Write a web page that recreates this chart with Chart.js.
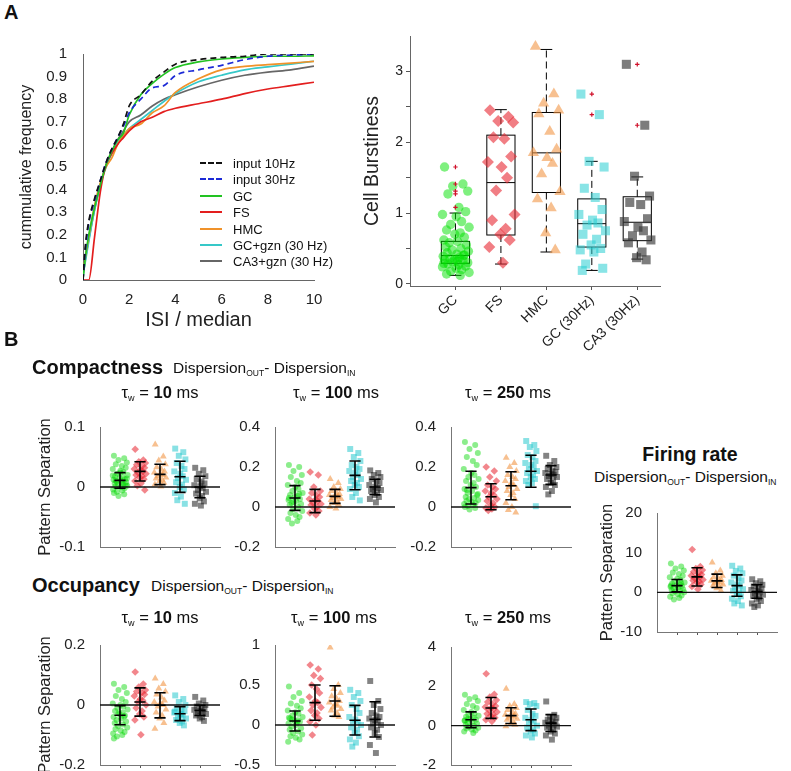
<!DOCTYPE html>
<html><head><meta charset="utf-8">
<script src="https://cdn.jsdelivr.net/npm/chart.js@4.4.1/dist/chart.umd.min.js"></script>
<style>
body{margin:0;background:#fff;width:791px;height:771px;position:relative;overflow:hidden;font-family:"Liberation Sans",Arial,Helvetica,sans-serif;color:#111}
canvas{position:absolute}
.t{position:absolute;white-space:nowrap;line-height:1}
.cc{transform:translate(-50%,-50%)}
.lc{transform:translate(0,-50%)}
.b{font-weight:bold}
.s{font-size:0.55em;position:relative;top:0.35em}
.lg{position:absolute;left:200px;width:22px;height:0}
</style></head>
<body>
<canvas id="cdf"></canvas>
<canvas id="burst"></canvas>
<canvas id="c10"></canvas><canvas id="c100"></canvas><canvas id="c250"></canvas>
<canvas id="fr"></canvas>
<canvas id="o10"></canvas><canvas id="o100"></canvas><canvas id="o250"></canvas>

<div class="t lc b" style="left:4px;top:12px;font-size:20px">A</div>
<div class="t lc b" style="left:4px;top:339px;font-size:20px">B</div>

<div class="t lc b" style="left:32px;top:367px;font-size:20px">Compactness</div>
<div class="t lc" style="left:173px;top:368px;font-size:15.5px">Dispersion<span class="s">OUT</span>- Dispersion<span class="s">IN</span></div>
<div class="t cc" style="left:160px;top:392px;font-size:16.5px">τ<span class="s">w</span> = <b>10</b> ms</div>
<div class="t cc" style="left:336px;top:392px;font-size:16.5px">τ<span class="s">w</span> = <b>100</b> ms</div>
<div class="t cc" style="left:508px;top:392px;font-size:16.5px">τ<span class="s">w</span> = <b>250</b> ms</div>

<div class="t cc b" style="left:690px;top:455px;font-size:19.5px">Firing rate</div>
<div class="t lc" style="left:594px;top:477px;font-size:15.5px">Dispersion<span class="s">OUT</span>- Dispersion<span class="s">IN</span></div>

<div class="t lc b" style="left:32px;top:585px;font-size:20px">Occupancy</div>
<div class="t lc" style="left:151px;top:586px;font-size:15.5px">Dispersion<span class="s">OUT</span>- Dispersion<span class="s">IN</span></div>
<div class="t cc" style="left:160px;top:617px;font-size:16.5px">τ<span class="s">w</span> = <b>10</b> ms</div>
<div class="t cc" style="left:334px;top:617px;font-size:16.5px">τ<span class="s">w</span> = <b>100</b> ms</div>
<div class="t cc" style="left:508px;top:617px;font-size:16.5px">τ<span class="s">w</span> = <b>250</b> ms</div>

<div id="legend"></div>

<script>
// ---------- data ----------
// panel A left: cumulative ISI distributions
const ISI_X=[0,0.1,0.25,0.5,0.75,1,1.25,1.5,1.75,2,2.5,3,3.5,4,5,6,7,8,9,10];
const CDF_IN10=[0,0.15,0.26,0.36,0.44,0.52,0.58,0.63,0.69,0.77,0.82,0.88,0.92,0.955,0.975,0.985,0.99,1.0,1.0,1.0];
const CDF_IN30=[0,0.13,0.25,0.35,0.44,0.52,0.58,0.63,0.68,0.74,0.80,0.85,0.86,0.905,0.93,0.95,0.975,0.99,0.995,1.0];
const CDF_GC=[0,0.1,0.2,0.32,0.42,0.51,0.57,0.62,0.65,0.73,0.82,0.87,0.91,0.94,0.965,0.978,0.985,0.99,0.99,0.992];
const CDF_FS=[0,0,0,0.19,0.39,0.51,0.56,0.6,0.63,0.66,0.70,0.72,0.745,0.76,0.78,0.80,0.825,0.845,0.86,0.875];
const CDF_HMC=[0.03,0.1,0.19,0.33,0.43,0.5,0.54,0.6,0.64,0.67,0.69,0.74,0.77,0.83,0.89,0.93,0.945,0.953,0.96,0.967];
const CDF_GCGZN=[0.02,0.08,0.17,0.31,0.42,0.5,0.56,0.61,0.64,0.67,0.71,0.75,0.79,0.825,0.877,0.906,0.93,0.943,0.955,0.968];
const CDF_CA3GZN=[0.02,0.09,0.18,0.31,0.42,0.51,0.57,0.62,0.66,0.70,0.73,0.77,0.80,0.82,0.855,0.884,0.906,0.92,0.93,0.946];
const CDF_NAMES=['input 10Hz','input 30Hz','GC','FS','HMC','GC+gzn (30 Hz)','CA3+gzn (30 Hz)'];
const CDF_X_TICKS=[0,2,4,6,8,10];

// panel A right: cell burstiness
const CELL_TYPES=['GC','FS','HMC','GC (30Hz)','CA3 (30Hz)'];
const BURST_GC=[1.65,1.41,1.38,1.31,1.27,1.08,1.02,0.98,0.95,0.88,0.84,0.80,0.76,0.72,0.70,0.66,0.62,0.60,0.58,0.55,0.52,0.50,0.48,0.46,0.44,0.42,0.40,0.39,0.37,0.36,0.34,0.33,0.31,0.30,0.28,0.27,0.25,0.24,0.22,0.20,0.18,0.16,0.14,0.12,0.35,0.41,0.29,0.32];
const BURST_FS=[2.45,2.36,2.30,2.28,2.07,2.05,1.80,1.72,1.65,1.50,1.32,0.98,0.90,0.78,0.70,0.62,0.52,0.30];
const BURST_HMC=[3.35,2.68,2.55,2.45,2.40,2.15,1.90,1.85,1.78,1.70,1.55,1.30,1.20,1.07,0.72,0.48];
const BURST_GC30=[2.68,2.39,1.73,1.65,1.35,1.22,1.05,0.98,0.90,0.86,0.83,0.75,0.70,0.63,0.55,0.50,0.48,0.45,0.28,0.22,0.19];
const BURST_CA3=[3.10,2.24,1.52,1.24,1.15,1.12,0.92,0.88,0.80,0.75,0.68,0.62,0.58,0.45,0.37,0.34];
const BOX_Q1=[0.29,0.69,1.29,0.52,0.61];
const BOX_MED=[0.40,1.43,1.85,0.85,0.87];
const BOX_Q3=[0.60,2.10,2.42,1.20,1.23];
const WHISK_LO=[0.12,0.28,0.45,0.19,0.35];
const WHISK_HI=[1.00,2.46,3.31,1.73,1.51];
const OUTLIERS=[[1.65,1.41,1.31,1.27,1.08],[],[],[2.68,2.39],[3.10,2.24]];
const BURST_Y_TICKS=[0,0.5,1,1.5,2,2.5,3];

// panel B: pattern separation (GC, FS, HMC, GC 30Hz, CA3 30Hz)
const C10_VALS=[
 [0.052,0.048,0.045,0.041,0.038,0.035,0.032,0.03,0.027,0.025,0.022,0.02,0.018,0.016,0.015,0.013,0.012,0.01,0.009,0.008,0.006,0.005,0.004,0.002,0.001,0,-0.002,-0.004,-0.006,-0.008,-0.01,-0.012,-0.015,0.014,0.011,0.007,0.003,0.019,0.024],
 [0.063,0.045,0.042,0.04,0.037,0.034,0.032,0.03,0.028,0.026,0.024,0.022,0.02,0.018,0.016,0.013,0.01,0.006,0.002,-0.005],
 [0.071,0.051,0.044,0.038,0.033,0.029,0.026,0.024,0.022,0.02,0.018,0.016,0.014,0.012,0.01,0.007,0.004,0.001],
 [0.064,0.058,0.052,0.046,0.04,0.035,0.03,0.026,0.022,0.018,0.015,0.012,0.008,0.004,0,-0.004,-0.01,-0.016,-0.022,-0.028],
 [0.032,0.028,0.022,0.018,0.013,0.009,0.006,0.003,0.001,-0.002,-0.005,-0.008,-0.011,-0.015,-0.019,-0.024,-0.028,-0.031]];
const C10_MEAN=[0.011,0.026,0.021,0.017,0.0];
const C10_SD=[0.013,0.016,0.017,0.026,0.018];

const C100_VALS=[
 [0.21,0.2,0.18,0.16,0.15,0.13,0.12,0.11,0.1,0.09,0.08,0.07,0.06,0.055,0.05,0.04,0.035,0.03,0.02,0.015,0.01,0.0,-0.01,-0.02,-0.03,-0.04,-0.05,-0.06,-0.07,-0.083,0.045,0.065,0.025],
 [0.175,0.16,0.1,0.08,0.07,0.06,0.05,0.04,0.035,0.03,0.02,0.015,0.01,0.0,-0.01,-0.02,-0.03,-0.04],
 [0.14,0.12,0.1,0.09,0.08,0.07,0.065,0.06,0.055,0.05,0.045,0.04,0.035,0.03,0.02,0.01,0.0,-0.007],
 [0.29,0.27,0.25,0.23,0.21,0.2,0.19,0.18,0.17,0.16,0.15,0.14,0.13,0.12,0.11,0.1,0.09,0.07,0.05,0.033],
 [0.183,0.17,0.16,0.15,0.14,0.13,0.12,0.11,0.1,0.095,0.09,0.085,0.08,0.07,0.06,0.05,0.04,0.023]];
const C100_MEAN=[0.045,0.03,0.053,0.158,0.1];
const C100_SD=[0.062,0.058,0.035,0.072,0.039];

const C250_VALS=[
 [0.325,0.31,0.29,0.27,0.25,0.23,0.21,0.19,0.17,0.16,0.15,0.14,0.13,0.12,0.11,0.1,0.09,0.08,0.07,0.06,0.05,0.045,0.04,0.035,0.03,0.025,0.02,0.015,0.01,0.005,0.0,-0.005,-0.012,0.065,0.085],
 [0.2,0.18,0.15,0.13,0.11,0.1,0.09,0.08,0.07,0.06,0.05,0.04,0.03,0.02,0.01,0.0,-0.005,-0.01,-0.017],
 [0.246,0.22,0.2,0.18,0.16,0.15,0.14,0.13,0.12,0.11,0.1,0.09,0.08,0.07,0.06,0.04,0.02,0.0,-0.015,-0.027],
 [0.33,0.31,0.3,0.28,0.26,0.25,0.23,0.22,0.21,0.2,0.19,0.18,0.17,0.16,0.15,0.14,0.13,0.12,0.11,0.004],
 [0.256,0.23,0.21,0.2,0.19,0.18,0.175,0.17,0.165,0.16,0.155,0.15,0.14,0.13,0.12,0.11,0.1,0.08,0.063]];
const C250_MEAN=[0.097,0.051,0.106,0.179,0.16];
const C250_SD=[0.082,0.065,0.07,0.08,0.047];

const O10_VALS=[
 [0.071,0.06,0.05,0.04,0.03,0.02,0.01,0.005,0,-0.005,-0.01,-0.015,-0.02,-0.025,-0.03,-0.035,-0.04,-0.045,-0.05,-0.055,-0.06,-0.065,-0.07,-0.075,-0.08,-0.085,-0.09,-0.095,-0.1,-0.105,-0.112,-0.038,-0.028],
 [0.11,0.07,0.06,0.05,0.045,0.04,0.035,0.03,0.02,0.015,0.01,0.0,-0.01,-0.02,-0.03,-0.04,-0.05,-0.099],
 [0.088,0.07,0.055,0.045,0.035,0.025,0.015,0.01,0.005,0,-0.005,-0.015,-0.025,-0.035,-0.045,-0.06,-0.079],
 [0.032,0.02,0.01,0.0,-0.01,-0.015,-0.02,-0.025,-0.03,-0.035,-0.04,-0.045,-0.05,-0.055,-0.06,-0.068,-0.022,-0.032],
 [0.027,0.015,0.005,0.0,-0.005,-0.01,-0.013,-0.016,-0.02,-0.023,-0.026,-0.03,-0.035,-0.04,-0.045,-0.053]];
const O10_MEAN=[-0.034,0.01,-0.001,-0.029,-0.018];
const O10_SD=[0.032,0.047,0.042,0.023,0.017];

const O100_VALS=[
 [0.48,0.4,0.35,0.3,0.27,0.24,0.21,0.18,0.16,0.14,0.12,0.1,0.08,0.06,0.05,0.04,0.02,0.0,-0.02,-0.04,-0.06,-0.08,-0.1,-0.12,-0.14,-0.16,-0.18,-0.21,0.03,0.07,0.09],
 [0.75,0.7,0.62,0.58,0.5,0.45,0.4,0.35,0.3,0.28,0.25,0.22,0.18,0.15,0.12,0.08,0.04,0.0,-0.125],
 [0.97,0.5,0.45,0.4,0.36,0.33,0.3,0.28,0.26,0.24,0.22,0.2,0.18,0.15,0.12,0.1],
 [0.44,0.4,0.35,0.3,0.25,0.2,0.15,0.1,0.07,0.04,0.02,0.0,-0.03,-0.06,-0.1,-0.14,-0.18,-0.22,-0.27],
 [0.55,0.3,0.25,0.2,0.15,0.12,0.1,0.08,0.06,0.04,0.02,0.0,-0.03,-0.06,-0.1,-0.15,-0.25,-0.35]];
const O100_MEAN=[0.05,0.28,0.3,0.06,0.07];
const O100_SD=[0.125,0.22,0.19,0.185,0.22];

const O250_VALS=[
 [1.57,1.45,1.35,1.25,1.1,1.0,0.9,0.8,0.7,0.6,0.55,0.5,0.45,0.4,0.35,0.3,0.25,0.2,0.15,0.1,0.05,0.0,-0.05,-0.1,-0.15,-0.2,-0.25,-0.3,-0.37,0.32,0.28],
 [2.64,1.6,1.45,1.3,1.2,1.1,1.0,0.95,0.9,0.85,0.8,0.7,0.6,0.55,0.5,0.4,0.3,0.22],
 [1.88,1.1,1.0,0.9,0.8,0.7,0.6,0.55,0.5,0.45,0.4,0.35,0.3,0.2,0.1,0.05,-0.03],
 [1.2,1.15,1.1,1.0,0.8,0.6,0.5,0.4,0.3,0.2,0.1,0.0,-0.1,-0.2,-0.3,-0.4,-0.5,-0.6],
 [1.23,0.55,0.45,0.4,0.3,0.25,0.2,0.15,0.1,0.05,0.0,-0.05,-0.1,-0.2,-0.3,-0.4,-0.5,-0.71]];
const O250_MEAN=[0.3,0.9,0.51,0.3,0.13];
const O250_SD=[0.4,0.53,0.4,0.55,0.43];

const FR_VALS=[
 [7.3,6.5,6,5.5,5,4.6,4.2,3.8,3.4,3.1,2.8,2.5,2.2,2,1.8,1.6,1.4,1.2,1,0.8,0.6,0.4,0.2,0,-0.2,-0.5,-0.8,-1.1,-1.4,-1.8,1.7,2.3],
 [10.8,6.5,6.0,5.6,5.2,4.8,4.5,4.2,4,3.8,3.5,3.2,3,2.7,2.4,2,1.5,0.8],
 [7.5,5.5,4.8,4.2,3.8,3.4,3.1,2.9,2.7,2.5,2.3,2,1.7,1.4,1,0.4],
 [6.7,6,5.4,4.8,4.2,3.6,3,2.5,2,1.6,1.2,0.8,0.4,0,-0.5,-1,-1.6,-2.2,-2.8,-3.3],
 [3.3,2.8,2.3,1.9,1.5,1.2,0.9,0.6,0.3,0,-0.3,-0.6,-0.9,-1.3,-1.7,-2.2,-2.8,-3.3,-3.7]];
const FR_MEAN=[1.7,3.9,2.9,1.7,0.2];
const FR_SD=[1.55,2.3,1.7,2.7,1.7];

// fixed horizontal jitter pattern (fraction of spread)
const JIT=[-0.8,0.55,-0.2,0.9,-0.55,0.25,0.75,-0.95,0.05,0.45,-0.35,1.0,-0.65,0.35,-0.05,0.65,-0.85,0.15,-0.45,0.8,-0.7,0.4,-0.25,0.95,-0.6,0.1,0.6,-0.9,0.3,-0.4];

// ---------- styles ----------
const CDF_COLORS=['#111','#1c2ad6','#22c322','#e31e1e','#f0922a','#36c8c8','#666'];
const CDF_DASH=[[6,4],[6,4],[],[],[],[],[]];
const G_COLORS=['rgba(0,215,0,0.45)','rgba(232,35,45,0.55)','rgba(242,150,70,0.6)','rgba(40,200,205,0.55)','rgba(30,30,30,0.55)'];
const A_COLORS=['rgba(0,225,0,0.5)','rgba(232,40,50,0.6)','rgba(242,150,70,0.6)','rgba(40,205,210,0.55)','rgba(55,55,55,0.65)'];
const G_SHAPES=['circle','rectRot','triangle','rect','rect'];
const B_RADIUS=[3,3.8,4,4.2,4.2];
const A_RADIUS=[4.7,6,6.5,6.4,6.4];
const B_SPREAD=[0.38,0.3,0.3,0.3,0.3];

Chart.defaults.font.family='"Liberation Sans", Arial, Helvetica, sans-serif';
Chart.defaults.color='#222';
Chart.defaults.animation=false;

// matlab-like tick text: 1 not 1.0, 0 not 0.0
const num=v=>String(Math.round(v*1e6)/1e6);

function place(id,area,leftW,bottomH,topPad,config){
  const rightPad=14;
  const c=document.getElementById(id);
  c.width=area.r-area.l+leftW+rightPad;
  c.height=area.b-area.t+topPad+bottomH;
  c.style.left=(area.l-leftW)+'px';
  c.style.top=(area.t-topPad)+'px';
  const o=config.options;
  o.responsive=false;
  o.layout={padding:{top:topPad,right:rightPad,left:0,bottom:0}};
  o.scales.y.afterFit=s=>{s.width=leftW};
  o.scales.x.afterFit=s=>{s.height=bottomH};
  o.plugins=Object.assign({legend:{display:false},tooltip:{enabled:false}},o.plugins||{});
  return new Chart(c,config);
}

const errPlugin={id:'err',afterDatasetsDraw(ch){
  const o=ch.options.plugins.err; if(!o||!o.mean) return;
  const x=ch.scales.x,y=ch.scales.y,ctx=ch.ctx;
  ctx.save(); ctx.strokeStyle='#000'; ctx.lineWidth=1.6;
  o.mean.forEach((m,i)=>{
    const cx=x.getPixelForValue(i+1), hw=x.getPixelForValue(i+1+o.cap)-cx;
    const yt=y.getPixelForValue(m+o.sd[i]), yb=y.getPixelForValue(m-o.sd[i]), ym=y.getPixelForValue(m);
    ctx.beginPath(); ctx.moveTo(cx,yt); ctx.lineTo(cx,yb);
    [yt,ym,yb].forEach(v=>{ctx.moveTo(cx-hw,v);ctx.lineTo(cx+hw,v);});
    ctx.stroke();
  });
  ctx.restore();
}};

const boxPlugin={id:'box',beforeDatasetsDraw(ch){
  const o=ch.options.plugins.box; if(!o||!o.q1) return;
  const x=ch.scales.x,y=ch.scales.y,ctx=ch.ctx;
  ctx.save(); ctx.strokeStyle='#000'; ctx.lineWidth=1;
  o.q1.forEach((q,i)=>{
    const cx=x.getPixelForValue(i+1);
    const bw=x.getPixelForValue(i+1+o.half)-cx, cw=x.getPixelForValue(i+1+o.cap)-cx;
    const p1=y.getPixelForValue(q),p3=y.getPixelForValue(o.q3[i]),pm=y.getPixelForValue(o.med[i]);
    const lo=y.getPixelForValue(o.lo[i]),hi=y.getPixelForValue(o.hi[i]);
    ctx.setLineDash([]);
    ctx.strokeRect(cx-bw,p3,2*bw,p1-p3);
    ctx.beginPath();
    ctx.moveTo(cx-bw,pm);ctx.lineTo(cx+bw,pm);
    ctx.moveTo(cx-cw,lo);ctx.lineTo(cx+cw,lo);
    ctx.moveTo(cx-cw,hi);ctx.lineTo(cx+cw,hi);
    ctx.stroke();
    ctx.setLineDash([7,4]);
    ctx.beginPath();
    ctx.moveTo(cx,p3);ctx.lineTo(cx,hi);
    ctx.moveTo(cx,p1);ctx.lineTo(cx,lo);
    ctx.stroke();
  });
  ctx.restore();
}};
Chart.register(errPlugin,boxPlugin);

function jitter(vals,cat,spread){
  return vals.map((v,i)=>({x:cat+JIT[i%JIT.length]*spread,y:v}));
}

// ---------- panel A left ----------
const CDF_SERIES=[CDF_IN10,CDF_IN30,CDF_GC,CDF_FS,CDF_HMC,CDF_GCGZN,CDF_CA3GZN];
place('cdf',{l:83,r:314,t:49,b:280},68,52,12,{
  type:'line',
  data:{datasets:CDF_SERIES.map((s,k)=>({
    label:CDF_NAMES[k],
    data:s.map((v,i)=>({x:ISI_X[i],y:v})),
    borderColor:CDF_COLORS[k],borderDash:CDF_DASH[k],borderWidth:1.7,
    pointRadius:0,cubicInterpolationMode:'monotone',order:k===0?0:k
  }))},
  options:{scales:{
    x:{type:'linear',min:0,max:10,afterBuildTicks:s=>{s.ticks=CDF_X_TICKS.map(v=>({value:v}))},
       ticks:{font:{size:15},padding:3,callback:num},grid:{display:false},border:{color:'#666'},
       title:{display:true,text:'ISI / median',font:{size:20},padding:{top:0,bottom:0}}},
    y:{min:0,max:1,ticks:{stepSize:0.1,font:{size:15},padding:8,callback:num},grid:{display:false},border:{color:'#666'},
       title:{display:true,text:'cummulative frequency',font:{size:16},padding:{top:2,bottom:0}}}
  }}
});
// legend for panel A left
const lg=document.getElementById('legend');
CDF_NAMES.forEach((n,k)=>{
  const cy=163+k*16.4;
  const ln=document.createElement('div');
  ln.className='lg';
  ln.style.top=(cy-1)+'px';
  ln.style.borderTop='2px '+(CDF_DASH[k].length?'dashed ':'solid ')+CDF_COLORS[k];
  lg.appendChild(ln);
  const tx=document.createElement('div');
  tx.className='t lc';
  tx.style.cssText='left:233px;top:'+cy+'px;font-size:13px';
  tx.textContent=n;
  lg.appendChild(tx);
});

// ---------- panel A right ----------
const BURST=[BURST_GC,BURST_FS,BURST_HMC,BURST_GC30,BURST_CA3];
const burstSets=BURST.map((v,g)=>({data:jitter(v,g+1,0.3),pointStyle:G_SHAPES[g],pointRadius:A_RADIUS[g],
  backgroundColor:A_COLORS[g],borderWidth:0,order:10-g}));
burstSets.push({data:OUTLIERS.flatMap((v,g)=>v.map(y=>({x:g+1,y}))),pointStyle:'cross',pointRadius:2.2,
  borderColor:'#d0102a',borderWidth:1.2,order:0});
place('burst',{l:410,r:660,t:36,b:286},51,80,12,{
  type:'scatter',
  data:{datasets:burstSets},
  options:{
    plugins:{box:{q1:BOX_Q1,q3:BOX_Q3,med:BOX_MED,lo:WHISK_LO,hi:WHISK_HI,half:0.31,cap:0.13}},
    scales:{
    x:{type:'linear',min:0,max:5.5,afterBuildTicks:s=>{s.ticks=CELL_TYPES.map((c,i)=>({value:i+1}))},
       ticks:{autoSkip:false,minRotation:45,maxRotation:45,font:{size:14},padding:2,callback:v=>CELL_TYPES[v-1]},
       grid:{drawOnChartArea:false,tickLength:4,color:'#555'},border:{color:'#666'}},
    y:{min:-0.03,max:3.5,afterBuildTicks:s=>{s.ticks=BURST_Y_TICKS.map(v=>({value:v}))},
       ticks:{font:{size:14},padding:3,callback:v=>Number.isInteger(v)?String(v):''},
       grid:{drawOnChartArea:false,tickLength:4,color:'#555'},border:{color:'#666'},
       title:{display:true,text:'Cell Burstiness',font:{size:19.5},padding:{top:2,bottom:0}}}
  }}
});

// ---------- panel B ----------
function bPanel(id,area,leftW,vals,mean,sd,ymin,ymax,step,ytitle){
  const sets=vals.map((v,g)=>({data:jitter(v,g+1,B_SPREAD[g]),pointStyle:G_SHAPES[g],pointRadius:B_RADIUS[g],
    backgroundColor:G_COLORS[g],borderWidth:0,order:10-g}));
  sets.push({data:[{x:0,y:0},{x:6,y:0}],showLine:true,borderColor:'#111',borderWidth:1.3,pointRadius:0,order:0});
  place(id,area,leftW,24,24,{
    type:'scatter',
    data:{datasets:sets},
    options:{
      plugins:{err:{mean,sd,cap:0.28}},
      scales:{
      x:{type:'linear',min:0,max:6,afterBuildTicks:s=>{s.ticks=mean.map((m,i)=>({value:i+1}))},
         ticks:{callback:()=>'',padding:0},grid:{drawOnChartArea:false,tickLength:3,color:'#555'},border:{color:'#777'}},
      y:{min:ymin,max:ymax,ticks:{stepSize:step,font:{size:15},padding:7,callback:num},grid:{display:false},border:{color:'#777'},
         title:{display:!!ytitle,text:ytitle||'',font:{size:16.5},padding:{top:2,bottom:0}}}
    }}
  });
}
bPanel('c10',{l:100,r:220,t:427,b:547},66,C10_VALS,C10_MEAN,C10_SD,-0.1,0.1,0.1,'Pattern Separation');
bPanel('c100',{l:275,r:395,t:427,b:547},50,C100_VALS,C100_MEAN,C100_SD,-0.2,0.4,0.2);
bPanel('c250',{l:451,r:571,t:427,b:547},50,C250_VALS,C250_MEAN,C250_SD,-0.2,0.4,0.2);
bPanel('fr',{l:657,r:777,t:513,b:632},61,FR_VALS,FR_MEAN,FR_SD,-10,20,10,'Pattern Separation');
bPanel('o10',{l:100,r:220,t:645,b:765},66,O10_VALS,O10_MEAN,O10_SD,-0.2,0.2,0.2,'Pattern Separation');
bPanel('o100',{l:275,r:395,t:645,b:765},50,O100_VALS,O100_MEAN,O100_SD,-0.5,1,0.5);
bPanel('o250',{l:451,r:571,t:647,b:765},50,O250_VALS,O250_MEAN,O250_SD,-2,4,2);
</script>
</body></html>
